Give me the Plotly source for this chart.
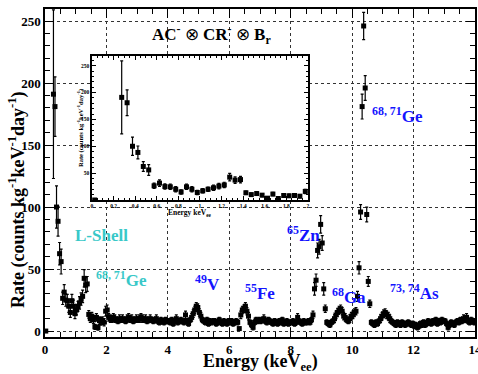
import plotly.graph_objects as go

# ---------------- data ----------------
BIN_START = 0.275   # first bin centre above threshold (keV_ee)
BIN_WIDTH = 0.05

# sub-threshold point
thr_energy = [0.025]
thr_rate = [0.0]
thr_err = [0.0]

# 0.25 - 2.0 keV (also the inset)
rate_low = [191, 181, 100, 88.5, 62.4, 56, 26.4, 31.4, 25, 24.5,
            20, 15, 24.5, 20, 14, 17, 20, 22.7, 25.8, 28,
            42.5, 37, 38, 13.4, 10, 12, 9, 3.4, 11, 2.8,
            8.4, 7.8, 8.4, 7.1, 16]
err_low = [68, 24, 17, 12, 9, 10, 5, 6, 5, 5,
           5, 4, 5, 5, 4, 4, 4, 5, 5, 5,
           7, 6, 6, 3, 3, 3, 3, 2, 3, 2,
           3, 3, 3, 3, 4]

# 2.0 - 14.0 keV, rows of 0.5 keV
rate_high = [
    17, 11, 10, 9, 11, 10, 9, 8, 10, 9,      # 2.0
    10, 9, 8, 10, 11, 9, 10, 8, 9, 10,       # 2.5
    9, 10, 11, 10, 9, 10, 8, 9, 10, 9,       # 3.0
    8, 9, 10, 8, 7, 9, 8, 7, 9, 8,           # 3.5
    8, 7, 9, 6, 8, 10, 7, 8, 9, 8,           # 4.0
    7, 13, 8, 6, 9, 11, 14, 17, 20, 19,      # 4.5
    15, 12, 9, 8, 7, 9, 6, 8, 7, 8,          # 5.0
    8, 6, 7, 9, 7, 6, 8, 7, 6, 8,            # 5.5
    7, 8, 6, 7, 8, 7, 2, 13, 17, 18,         # 6.0
    20, 16, 12, 7, 5, 3, 7, 9, 8, 9,         # 6.5
    8, 9, 10, 8, 7, 9, 8, 7, 6, 8,           # 7.0
    7, 6, 8, 7, 9, 6, 7, 8, 6, 7,            # 7.5
    7, 8, 6, 7, 11, 8, 7, 6, 8, 7,           # 8.0
    7, 8, 7, 9, 13, 34, 41, 65, 68, 86,      # 8.5
    71, 34, 18, 7, 6, 5, 7, 8, 10, 13,       # 9.0
    15, 17, 18, 16, 12, 11, 9, 8, 10, 12,    # 9.5
    13, 15, 16, 28, 51, 96, 181, 246, 196, 94,  # 10.0
    40, 22, 7, 6, 5, 7, 6, 8, 10, 12,        # 10.5
    14, 15, 13, 12, 10, 8, 7, 6, 5, 7,       # 11.0
    6, 5, 7, 6, 5, 6, 7, 6, 5, 6,            # 11.5
    4, 5, 3, 4, 6, 5, 7, 5, 6, 8,            # 12.0
    7, 6, 8, 7, 9, 6, 8, 7, 9, 8,            # 12.5
    8, 6, 3, 5, 7, 6, 5, 7, 8, 7,            # 13.0
    9, 8, 10, 9, 11, 8, 7, 9, 8, 7,          # 13.5
]
err_high = [
    4, 3, 3, 2, 3, 3, 2, 2, 3, 2,
    3, 2, 2, 3, 3, 2, 3, 2, 2, 3,
    2, 3, 3, 3, 2, 3, 2, 2, 3, 2,
    2, 2, 3, 2, 2, 2, 2, 2, 2, 2,
    2, 2, 2, 2, 2, 3, 2, 2, 2, 2,
    2, 3, 2, 2, 2, 3, 3, 3, 3, 3,
    3, 3, 2, 2, 2, 2, 2, 2, 2, 2,
    2, 2, 2, 2, 2, 2, 2, 2, 2, 2,
    2, 2, 2, 2, 2, 2, 1, 3, 3, 3,
    3, 3, 3, 2, 2, 2, 2, 2, 2, 2,
    2, 2, 3, 2, 2, 2, 2, 2, 2, 2,
    2, 2, 2, 2, 2, 2, 2, 2, 2, 2,
    2, 2, 2, 2, 3, 2, 2, 2, 2, 2,
    2, 2, 2, 2, 3, 5, 5, 6, 6, 7,
    6, 5, 3, 2, 2, 2, 2, 2, 3, 3,
    3, 3, 3, 3, 3, 3, 2, 2, 3, 3,
    3, 3, 3, 4, 5, 6, 10, 11, 10, 6,
    4, 3, 2, 2, 2, 2, 2, 2, 3, 3,
    3, 3, 3, 3, 3, 2, 2, 2, 2, 2,
    2, 2, 2, 2, 2, 2, 2, 2, 2, 2,
    2, 2, 2, 2, 2, 2, 2, 2, 2, 2,
    2, 2, 2, 2, 2, 2, 2, 2, 2, 2,
    2, 2, 2, 2, 2, 2, 2, 2, 2, 2,
    2, 2, 3, 2, 3, 2, 2, 2, 2, 2,
]

x_ticks = [0, 2, 4, 6, 8, 10, 12, 14]
y_ticks = [0, 50, 100, 150, 200, 250]
inset_x_ticks = [0, 0.2, 0.4, 0.6, 0.8, 1, 1.2, 1.4, 1.6, 1.8, 2]
inset_x_labels = ["0", "0.2", "0.4", "0.6", "0.8", "1", "1.2", "1.4", "1.6", "1.8", "2"]
inset_y_ticks = [50, 100, 150, 200, 250]

# line labels: (text, energy, rate, colour)
BLUE = "#1414ff"
CYAN = "#38c8c8"
labels = [
    ("<sup>68, 71</sup>Ge", 10.59, 174, BLUE),
    ("L-Shell", 0.90, 77, CYAN),
    ("<sup>68, 71</sup>Ge", 1.59, 42, CYAN),
    ("<sup>49</sup>V", 4.82, 38.5, BLUE),
    ("<sup>65</sup>Zn", 7.82, 78, BLUE),
    ("<sup>55</sup>Fe", 6.45, 31.5, BLUE),
    ("<sup>68</sup>Ga", 9.28, 28, BLUE),
    ("<sup>73, 74</sup>As", 11.17, 31.5, BLUE),
]

# ---------------- build ----------------
rate = thr_rate + rate_low + rate_high
err = thr_err + err_low + err_high
n_above = len(rate_low) + len(rate_high)
energy = thr_energy + [round(BIN_START + BIN_WIDTH * i, 4) for i in range(n_above)]

ins_e = [e for e in energy if e <= 2.0]
ins_r = rate[:len(ins_e)]
ins_err = err[:len(ins_e)]

SERIF = "Liberation Serif"

fig = go.Figure()
fig.add_trace(go.Scatter(
    x=energy, y=rate, mode="markers", xaxis="x", yaxis="y",
    marker=dict(symbol="square", size=5, color="black"),
    error_y=dict(type="data", array=err, color="black", thickness=1.2, width=1.5),
    showlegend=False, hoverinfo="skip"))
fig.add_trace(go.Scatter(
    x=ins_e, y=ins_r, mode="markers", xaxis="x2", yaxis="y2",
    marker=dict(symbol="square", size=5, color="black"),
    error_y=dict(type="data", array=ins_err, color="black", thickness=1.2, width=1.5),
    showlegend=False, hoverinfo="skip"))

axis_common = dict(
    showline=True, linecolor="black", linewidth=1.5, mirror="allticks",
    ticks="inside", tickcolor="black", zeroline=False, automargin=False,
    ticklabeloverflow="allow",
)

fig.update_layout(
    width=478, height=374,
    margin=dict(l=45, r=3, t=9, b=37),
    paper_bgcolor="white", plot_bgcolor="white",
    xaxis=dict(domain=[0, 1], range=[0, 14], tickvals=x_ticks,
               ticklen=9, tickwidth=1.2,
               showgrid=True, gridcolor="#333333", griddash="dot", gridwidth=1,
               minor=dict(dtick=0.5, tick0=0, ticklen=5, ticks="inside",
                          tickcolor="black", showgrid=False),
               tickfont=dict(family=SERIF, size=13, color="black", weight="bold"),
               **axis_common),
    yaxis=dict(domain=[0, 1], range=[-4.8, 259.7], tickvals=y_ticks,
               ticklen=9, tickwidth=1.2,
               showgrid=True, gridcolor="#333333", griddash="dot", gridwidth=1,
               minor=dict(dtick=10, tick0=0, ticklen=5, ticks="inside",
                          tickcolor="black", showgrid=False),
               tickfont=dict(family=SERIF, size=13, color="black", weight="bold"),
               **axis_common),
    xaxis2=dict(domain=[0.1093, 0.6116], range=[0, 2], anchor="y2",
                tickvals=inset_x_ticks, ticktext=inset_x_labels,
                ticklen=4, tickwidth=1, showgrid=False,
                minor=dict(dtick=0.05, tick0=0, ticklen=2, ticks="inside",
                           tickcolor="black", showgrid=False),
                tickfont=dict(family=SERIF, size=5.5, color="black", weight="bold"),
                **axis_common),
    yaxis2=dict(domain=[0.4177, 0.8567], range=[0, 268], anchor="x2",
                tickvals=inset_y_ticks,
                ticklen=4, tickwidth=1, showgrid=False,
                minor=dict(dtick=10, tick0=0, ticklen=2, ticks="inside",
                           tickcolor="black", showgrid=False),
                tickfont=dict(family=SERIF, size=5.5, color="black", weight="bold"),
                **axis_common),
)

ann = []
# axis titles
ann.append(dict(text="<b>Rate (counts kg<sup>-1</sup>keV<sup>-1</sup>day<sup>-1</sup>)</b>",
                xref="paper", yref="paper", x=-0.065, y=0.418, textangle=-90,
                xanchor="center", yanchor="middle", showarrow=False,
                font=dict(family=SERIF, size=18, color="black")))
ann.append(dict(text="<b>Energy (keV<sub>ee</sub>)</b>",
                xref="paper", yref="paper", x=0.502, y=-0.079,
                xanchor="center", yanchor="middle", showarrow=False,
                font=dict(family=SERIF, size=18, color="black")))
ann.append(dict(text="<b>Rate (counts kg<sup>-1</sup>keV<sup>-1</sup>day<sup>-1</sup>)</b>",
                xref="paper", yref="paper", x=0.0814, y=0.637, textangle=-90,
                xanchor="center", yanchor="middle", showarrow=False,
                font=dict(family=SERIF, size=6.5, color="black")))
ann.append(dict(text="<b>Energy keV<sub>ee</sub></b>",
                xref="paper", yref="paper", x=0.337, y=0.377,
                xanchor="center", yanchor="middle", showarrow=False,
                font=dict(family=SERIF, size=7.5, color="black")))
ann.append(dict(text="<b>AC<sup>-</sup></b> ⊗ <b>CR<sup>-</sup></b> ⊗ <b>B<sub>r</sub></b>",
                xref="paper", yref="paper", x=0.388, y=0.921,
                xanchor="center", yanchor="middle", showarrow=False,
                font=dict(family=SERIF, size=17, color="black")))
for txt, ex, ry, col in labels:
    ann.append(dict(text="<b>" + txt + "</b>", xref="x", yref="y", x=ex, y=ry,
                    xanchor="left", yanchor="middle", showarrow=False,
                    font=dict(family=SERIF, size=17, color=col)))
fig.update_layout(annotations=ann)

fig.write_html(
    "out.html",
    config={"displayModeBar": False},
    post_script=("document.body.style.margin='0';document.body.style.padding='0';"
                 "document.body.style.overflow='hidden';"
                 "document.documentElement.style.overflow='hidden';"),
)
